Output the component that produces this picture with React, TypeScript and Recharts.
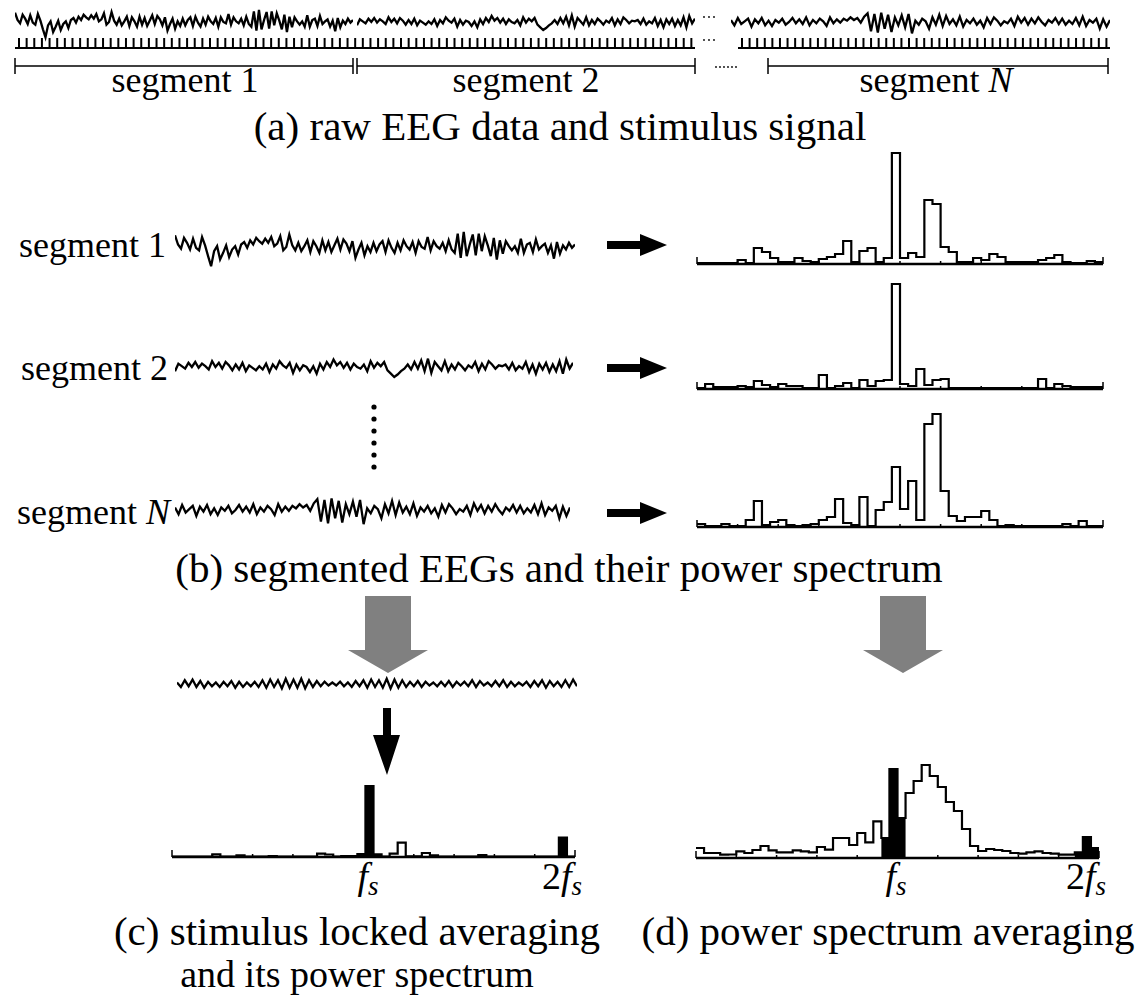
import React from 'react';
import { LineChart, Line, BarChart, Bar, ComposedChart, Area, XAxis, YAxis, ReferenceLine } from 'recharts';

// EEG amplitudes (arbitrary units) left to right
const seg1Eeg = [28, 6, -4, 22, 10, -6, 20, -2, -8, 24, 4, -22, -46, -10, 2, -30, -14, 4, -24, -6, 2, -18, 6, 12, -2, 16, 6, 22, 14, 8, 20, 10, 24, 2, 8, 26, -8, 0, 30, 4, -8, 10, -10, 2, 16, -12, 14, 2, -14, 16, -8, 12, -12, 4, 20, -6, 18, 8, -10, 14, -26, -6, 10, -20, 2, -12, 10, -10, 6, 14, -12, 16, -2, -14, 10, -8, 16, 2, -6, 12, -14, 14, 0, -4, 24, -8, 14, 2, -4, 10, -10, 16, -6, -14, 32, -26, 36, -22, 6, 30, -20, 32, -10, 26, 4, -22, 22, -30, 16, -16, 14, 2, -8, 2, -14, 20, -14, 6, 10, -12, 18, -6, 2, 8, -14, 4, -28, 12, -16, 4, -6, 10, -2, 6];
const seg2Eeg = [-10, 8, 2, -4, 10, 0, 12, -2, 8, 2, -6, 14, 0, 10, -4, 12, 4, -8, 6, -6, 10, -10, 4, -2, -8, 2, -6, 8, -12, 6, -4, 14, 4, -2, 10, -14, 6, -8, 4, 0, -12, 2, -16, 8, -6, 12, 0, 18, 4, 12, -2, 10, -6, 8, 0, -4, 6, -10, 14, -2, 10, 2, 12, -8, -16, -24, -18, -10, -4, 6, -6, 12, -4, 16, -10, 20, -14, 12, 2, -8, 14, -10, 6, -6, 10, 2, -8, 4, -2, 12, -10, 8, -6, 14, 6, -4, 4, 2, 6, -6, 10, -8, 2, -4, 12, -12, 6, -16, 8, -6, 10, -12, 6, -10, 14, -16, 18, -4, 10];
const segNEeg = [6, -10, 12, -6, 2, 10, -14, 8, -4, 12, -10, 4, -12, 6, -2, 10, -8, 0, 12, -4, 8, -6, 14, -10, 6, -4, 10, 2, -12, 14, -4, 8, -2, 10, 4, 14, 6, 12, -2, 16, 26, -28, 24, -32, 28, -20, 22, -30, 14, -10, 20, -16, 24, -34, 4, -8, 10, 2, -20, 14, -8, 22, -12, 18, -6, 8, -10, 16, -14, 6, -4, 10, -8, 4, -16, 12, -6, 14, 4, -10, 2, -4, 10, -12, 16, -2, 12, -8, 10, -4, 14, 0, -10, 6, -2, 12, -6, 10, -8, 4, -6, 12, -10, 16, -12, 6, -2, 10, -20, 8, -14, 6];
const averagedEeg = [4, -8, 10, -6, 12, -8, 8, -10, 6, -6, 4, -8, 6, -6, 8, -10, 6, -8, 4, -6, 6, -8, 10, -10, 12, -8, 10, -12, 14, -10, 12, -10, 14, -12, 10, -8, 8, -6, 6, -4, 4, -4, 6, -6, 4, -8, 8, -6, 10, -10, 12, -8, 10, -10, 14, -12, 12, -10, 10, -8, 6, -6, 8, -8, 6, -4, 4, -6, 6, -6, 8, -8, 6, -4, 6, -6, 10, -8, 8, -4, 4, -6, 8, -6, 10, -8, 6, -6, 4, -4, 6, -8, 8, -6, 10, -10, 8, -6, 6, -8, 10, -8, 12, -6];

// stimulus pulse trains (one entry per pulse)
const stimulusFirst = [1, 1, 1, 1, 1, 1, 1, 1, 1, 1, 1, 1, 1, 1, 1, 1, 1, 1, 1, 1, 1, 1, 1, 1, 1, 1, 1, 1, 1, 1, 1, 1, 1, 1, 1, 1, 1, 1, 1, 1, 1, 1, 1, 1, 1, 1, 1, 1, 1, 1, 1, 1, 1, 1, 1, 1, 1, 1, 1, 1, 1, 1, 1, 1, 1, 1, 1, 1, 1, 1, 1, 1, 1, 1, 1, 1, 1, 1, 1, 1, 1, 1, 1, 1, 1, 1, 1, 1, 1];
const stimulusLast = [1, 1, 1, 1, 1, 1, 1, 1, 1, 1, 1, 1, 1, 1, 1, 1, 1, 1, 1, 1, 1, 1, 1, 1, 1, 1, 1, 1, 1, 1, 1, 1, 1, 1, 1, 1, 1, 1, 1, 1, 1, 1, 1, 1, 1, 1, 1, 1, 1];

// power spectra, 50 frequency bins each (fs = bin 24, 2fs = bin 48)
const spectrum1 = [1, 1, 1, 1, 1, 4, 1, 16, 12, 6, 2, 2, 6, 3, 2, 5, 7, 10, 23, 2, 13, 16, 2, 6, 111, 6, 11, 7, 64, 60, 17, 12, 2, 2, 6, 4, 10, 7, 2, 2, 2, 2, 4, 6, 9, 2, 1, 1, 3, 2];
const spectrum2 = [1, 5, 2, 2, 2, 3, 2, 8, 4, 2, 5, 3, 3, 1, 1, 14, 1, 3, 6, 1, 9, 3, 8, 9, 105, 5, 3, 20, 4, 9, 10, 1, 1, 1, 1, 1, 1, 1, 1, 1, 1, 1, 10, 1, 5, 3, 2, 2, 2, 2];
const spectrumN = [3, 1, 1, 3, 1, 1, 7, 26, 2, 5, 7, 2, 1, 2, 3, 7, 10, 28, 4, 2, 30, 1, 17, 25, 60, 18, 46, 7, 103, 113, 36, 11, 6, 10, 10, 16, 7, 1, 2, 1, 1, 1, 1, 1, 1, 3, 1, 6, 1, 1];
const spectrumC = [0.5, 0.5, 0.5, 0.5, 0.5, 2.7, 0.5, 0.5, 1.7, 0.5, 0.5, 0.5, 1, 0.5, 0.5, 0.5, 0.5, 0.5, 3.3, 2.5, 0.5, 1, 1, 3, 71, 2.7, 0.5, 3.3, 14.3, 0.7, 0.7, 4, 1.7, 0.5, 0.5, 0.5, 0.5, 0.5, 2, 0.5, 0.5, 0.5, 0.5, 0.5, 0.5, 0.5, 0.5, 0.5, 19.3, 0.5];
const spectrumD = [10, 5, 5, 3.3, 3.5, 6.7, 5, 8, 12, 7.7, 5.7, 5.7, 7.7, 6.7, 5.7, 11, 8.3, 20, 20, 13, 25, 15.7, 36.7, 20, 89, 40, 65, 77, 93, 82, 71, 56, 47, 29, 12, 7, 9, 8, 7, 5, 4.3, 5.7, 6.7, 5, 4.3, 3.3, 3.3, 5.7, 21, 10];
const lockedBinsC = [23, 24, 25, 48];
const lockedBinsD = [23, 24, 25, 47, 48, 49];
const spectrumTicks = [0, 5, 10, 15, 20, 25, 30, 35, 40, 45, 50];

const FONT = '"Liberation Serif", "Times New Roman", serif';
const noMargin = { top: 0, right: 0, bottom: 0, left: 0 };

const Trace = ({ values, left, top, width, range = 48 }: any) => {
  const data = values.map((v: number, i: number) => ({ i, v }));
  return (
    <div style={{ position: 'absolute', left, top }}>
      <LineChart width={width} height={40} data={data} margin={noMargin}>
        <XAxis dataKey="i" type="number" domain={[0, values.length - 1]} hide />
        <YAxis domain={[-range, range]} hide />
        <Line dataKey="v" type="linear" stroke="#000" strokeWidth={2.3} dot={false} isAnimationActive={false} />
      </LineChart>
    </div>
  );
};

const StimulusComb = ({ pulses, left, top, width }: any) => (
  <div style={{ position: 'absolute', left, top }}>
    <BarChart width={width} height={13} data={pulses.map((p: number, i: number) => ({ i, p }))} margin={noMargin}>
      <XAxis dataKey="i" hide />
      <YAxis domain={[-0.2, 1.1]} hide />
      <ReferenceLine y={0} stroke="#000" strokeWidth={2} />
      <Bar dataKey="p" fill="#000" barSize={2} isAnimationActive={false} />
    </BarChart>
  </div>
);

const Spectrum = ({ values, locked = [], left, top, width, max }: any) => {
  const n = values.length;
  const data = values.concat(values[n - 1]).map((v: number, k: number) => ({
    k,
    v,
    b: locked.includes(k) || (k === n && locked.includes(n - 1)) ? v : 0,
  }));
  return (
    <div style={{ position: 'absolute', left: left - 1, top }}>
      <ComposedChart width={width + 2} height={max + 2} data={data} margin={{ top: 0, right: 1, bottom: 0, left: 1 }}>
        <XAxis dataKey="k" type="number" domain={[0, n]} hide />
        <YAxis domain={[-2, max]} hide />
        <Area dataKey="b" type="stepAfter" stroke="none" fill="#000" fillOpacity={1} baseValue={0} isAnimationActive={false} />
        <ReferenceLine y={0} stroke="#000" strokeWidth={2.5} />
        {spectrumTicks.map((t) => (
          <ReferenceLine key={t} segment={[{ x: t, y: 0 }, { x: t, y: t === 0 || t === n ? 7 : 3 }]} stroke="#000" strokeWidth={1.5} />
        ))}
        <Line dataKey="v" type="stepAfter" stroke="#000" strokeWidth={2.2} dot={false} isAnimationActive={false} />
      </ComposedChart>
    </div>
  );
};

const hArrow = (y: number) =>
  `607,${y - 4} 640,${y - 4} 640,${y - 11} 667,${y} 640,${y + 11} 640,${y + 4} 607,${y + 4}`;
const grayArrow = (cx: number) =>
  `${cx - 23},596 ${cx + 23},596 ${cx + 23},650 ${cx + 40},650 ${cx},673 ${cx - 40},650 ${cx - 23},650`;

const FsLabel = ({ x, y, two }: any) => (
  <text x={x} y={y} fontSize={38} textAnchor="middle">
    {two ? '2' : ''}
    <tspan fontStyle="italic">f</tspan>
    <tspan fontStyle="italic" fontSize={27} dy={6}>s</tspan>
  </text>
);

export default function App() {
  return (
    <div style={{ position: 'absolute', left: 0, top: 0, width: 1146, height: 997, background: '#fff', overflow: 'hidden' }}>
      {/* (a) raw EEG and stimulus */}
      <Trace values={seg1Eeg} left={15} top={2} width={338} range={60} />
      <Trace values={seg2Eeg} left={357} top={2} width={338} range={60} />
      <Trace values={segNEeg} left={731} top={2} width={379} range={60} />
      <StimulusComb pulses={stimulusFirst} left={15} top={37} width={680} />
      <StimulusComb pulses={stimulusLast} left={738} top={37} width={372} />

      {/* (b) segments and their spectra */}
      <Trace values={seg1Eeg} left={175} top={227} width={400} />
      <Trace values={seg2Eeg} left={175} top={347} width={398} />
      <Trace values={segNEeg} left={175} top={490} width={395} />
      <Spectrum values={spectrum1} left={697} top={146} width={406} max={118} />
      <Spectrum values={spectrum2} left={697} top={271} width={406} max={118} />
      <Spectrum values={spectrumN} left={697} top={409} width={406} max={118} />

      {/* (c) and (d) */}
      <Trace values={averagedEeg} left={177} top={664} width={400} range={54} />
      <Spectrum values={spectrumC} locked={lockedBinsC} left={172} top={779} width={403} max={78} />
      <Spectrum values={spectrumD} locked={lockedBinsD} left={696} top={760} width={403} max={98} />

      <svg width={1146} height={997} style={{ position: 'absolute', left: 0, top: 0, pointerEvents: 'none' }} fontFamily={FONT} fill="#000">
        {/* segment brackets */}
        <g stroke="#000" strokeWidth={1.5}>
          <line x1={15} y1={66} x2={353} y2={66} />
          <line x1={357} y1={66} x2={695} y2={66} />
          <line x1={768} y1={66} x2={1108} y2={66} />
          {[15, 353, 357, 695, 768, 1108].map((x) => (
            <line key={x} x1={x} y1={58} x2={x} y2={74} />
          ))}
        </g>
        {[704, 709, 714].map((x) => (
          <g key={x}>
            <circle cx={x} cy={17} r={0.9} />
            <circle cx={x} cy={40} r={0.9} />
          </g>
        ))}
        {[716, 720, 724, 728, 732, 736].map((x) => (
          <circle key={x} cx={x} cy={67} r={0.9} />
        ))}

        <g fontSize={36} textAnchor="middle">
          <text x={185} y={92}>segment 1</text>
          <text x={526} y={92}>segment 2</text>
          <text x={936} y={92}>segment <tspan fontStyle="italic">N</tspan></text>
        </g>
        <text x={560} y={140} fontSize={41} textAnchor="middle">(a) raw EEG data and stimulus signal</text>

        <g fontSize={36} textAnchor="end">
          <text x={166} y={257}>segment 1</text>
          <text x={168} y={380}>segment 2</text>
          <text x={170} y={524}>segment <tspan fontStyle="italic">N</tspan></text>
        </g>
        <polygon points={hArrow(245)} />
        <polygon points={hArrow(368)} />
        <polygon points={hArrow(513)} />
        {[407, 419, 431, 443, 455, 467].map((y) => (
          <circle key={y} cx={374} cy={y} r={2.6} />
        ))}
        <text x={559} y={582} fontSize={41} textAnchor="middle">(b) segmented EEGs and their power spectrum</text>

        <polygon points={grayArrow(388)} fill="#808080" />
        <polygon points={grayArrow(903)} fill="#808080" />
        <polygon points="383,708 391,708 391,735 400,735 387,775 373,735 383,735" />

        <FsLabel x={368} y={889} />
        <FsLabel x={562} y={889} two />
        <FsLabel x={896} y={889} />
        <FsLabel x={1086} y={889} two />

        <text x={357} y={945} fontSize={41} textAnchor="middle">(c) stimulus locked averaging</text>
        <text x={357} y={987} fontSize={38} textAnchor="middle">and its power spectrum</text>
        <text x={888} y={945} fontSize={41} textAnchor="middle">(d) power spectrum averaging</text>
      </svg>
    </div>
  );
}
